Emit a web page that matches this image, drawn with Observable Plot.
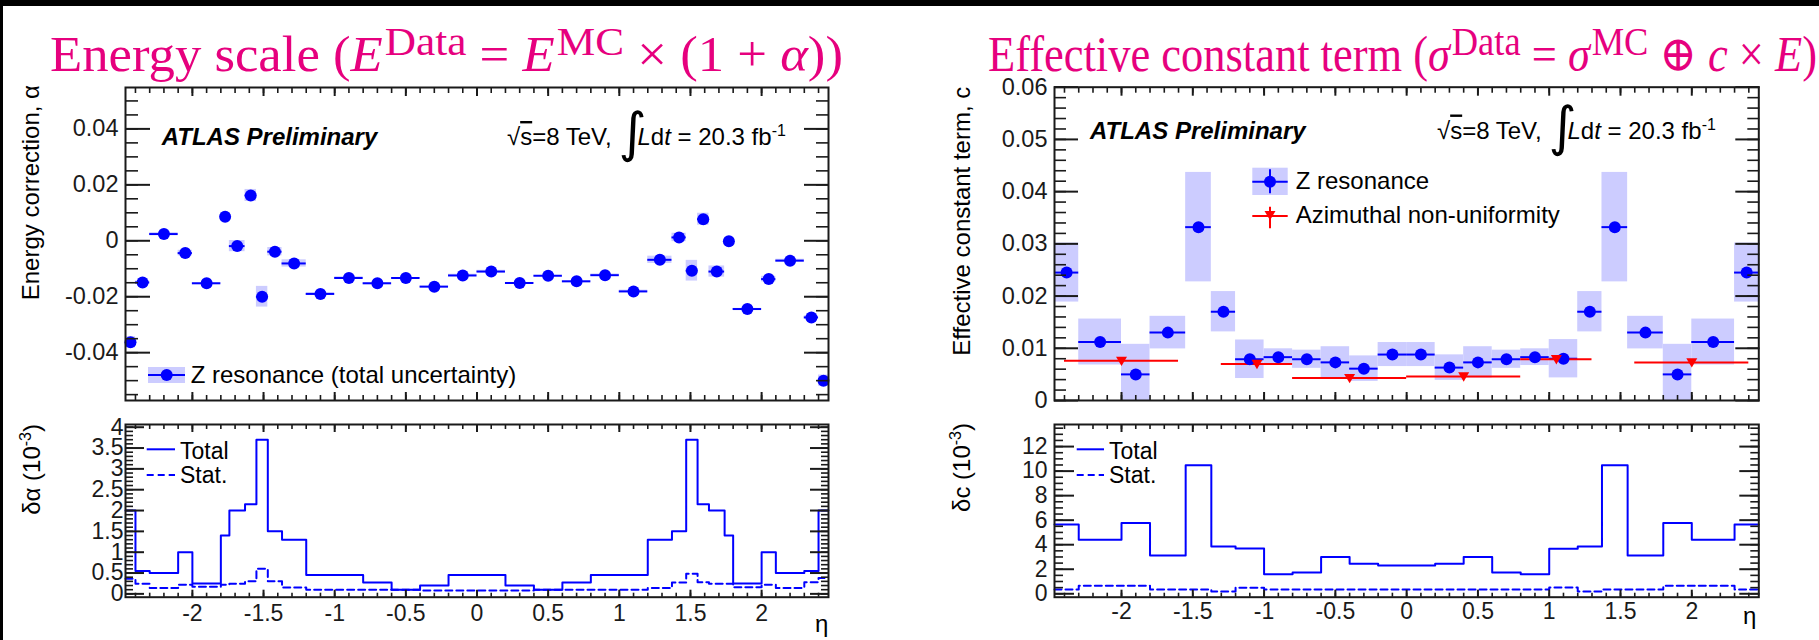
<!DOCTYPE html>
<html>
<head>
<meta charset="utf-8">
<script src="https://cdn.jsdelivr.net/npm/d3@7"></script>
<script src="https://cdn.jsdelivr.net/npm/@observablehq/plot@0.6"></script>
<style>
  html, body { margin: 0; padding: 0; background: #000; }
  #page { position: relative; width: 1819px; height: 640px; background: #000; overflow: hidden; }
  #paper { position: absolute; left: 3px; top: 6px; width: 1816px; height: 634px; background: #fff; }
  #overlay { position: absolute; left: 0; top: 0; pointer-events: none; }
  #overlay text { white-space: pre; }
</style>
</head>
<body>
<div id="page"><div id="paper"></div></div>
<script>
// ---------------- data ----------------
const etaMajor = [-2, -1.5, -1, -0.5, 0, 0.5, 1, 1.5, 2];
const etaLabels = ["-2", "-1.5", "-1", "-0.5", "0", "0.5", "1", "1.5", "2"];

// energy scale alpha, 34 eta bins
const alphaEdges = [-2.47, -2.4, -2.3, -2.1, -2.0, -1.8, -1.74, -1.63, -1.55, -1.47, -1.37, -1.2, -1.0, -0.8, -0.6, -0.4, -0.2, 0,
                    0.2, 0.4, 0.6, 0.8, 1.0, 1.2, 1.37, 1.47, 1.55, 1.63, 1.74, 1.8, 2.0, 2.1, 2.3, 2.4, 2.47];
const alphaValues = [-0.0363, -0.0149, 0.0024, -0.0044, -0.0152, 0.0086, -0.0019, 0.0162, -0.0200, -0.0039, -0.0081, -0.0190,
                     -0.0133, -0.0152, -0.0133, -0.0164, -0.0124, -0.0110, -0.0151, -0.0125, -0.0145, -0.0123, -0.0181,
                     -0.0068, 0.0012, -0.0107, 0.0077, -0.0110, -0.0002, -0.0244, -0.0137, -0.0071, -0.0274, -0.0500];
// uncertainties in units of 1e-3
const alphaTotal = [2.0, 0.55, 0.5, 1.0, 0.25, 1.4, 2.0, 2.15, 3.7, 1.5, 1.3, 0.45, 0.45, 0.27, 0.1, 0.2, 0.45,
                    0.45, 0.2, 0.1, 0.27, 0.45, 0.45, 1.3, 1.5, 3.7, 2.15, 2.0, 1.4, 0.25, 1.0, 0.5, 0.55, 2.0];
const alphaStat = [0.36, 0.24, 0.14, 0.22, 0.17, 0.22, 0.24, 0.3, 0.6, 0.3, 0.15, 0.1, 0.1, 0.1, 0.1, 0.08, 0.08,
                   0.08, 0.08, 0.1, 0.1, 0.1, 0.1, 0.14, 0.27, 0.48, 0.28, 0.24, 0.24, 0.16, 0.22, 0.14, 0.28, 0.38];

// effective constant term c, 24 eta bins
const cEdges = [-2.47, -2.3, -2.0, -1.8, -1.55, -1.37, -1.2, -1.0, -0.8, -0.6, -0.4, -0.2, 0,
                0.2, 0.4, 0.6, 0.8, 1.0, 1.2, 1.37, 1.55, 1.8, 2.0, 2.3, 2.47];
const cValues = [0.0245, 0.0112, 0.0050, 0.0130, 0.0332, 0.0170, 0.0079, 0.0083, 0.0079, 0.0073, 0.0061, 0.0088,
                 0.0088, 0.0063, 0.0073, 0.0079, 0.0083, 0.0080, 0.0170, 0.0332, 0.0130, 0.0050, 0.0112, 0.0245];
const cTotal = [5.65, 4.4, 5.76, 3.12, 10.48, 3.86, 3.69, 1.6, 1.74, 3.0, 2.44, 2.3,
                2.3, 2.44, 3.0, 1.74, 1.6, 3.67, 3.86, 10.48, 3.12, 5.76, 4.4, 5.65];
const cStat = [0.35, 0.65, 0.65, 0.35, 0.35, 0.19, 0.5, 0.35, 0.35, 0.35, 0.35, 0.35,
               0.35, 0.35, 0.35, 0.35, 0.35, 0.52, 0.19, 0.35, 0.35, 0.65, 0.65, 0.35];

// azimuthal non-uniformity
const azLo = [-2.4, -1.3, -0.8, 0, 0.8, 1.6];
const azHi = [-1.6, -0.8, 0, 0.8, 1.3, 2.4];
const azValues = [0.0076, 0.0070, 0.0043, 0.0046, 0.0079, 0.0073];

// axis ticks
const alphaTicks = [-0.04, -0.02, 0, 0.02, 0.04];
const cTicks = [0, 0.01, 0.02, 0.03, 0.04, 0.05, 0.06];
const dAlphaTicks = [0, 0.5, 1, 1.5, 2, 2.5, 3, 3.5, 4];
const dcTicks = [0, 2, 4, 6, 8, 10, 12];

// ---------------- helpers ----------------
const SANS = "'Liberation Sans', Arial, Helvetica, sans-serif";
const SERIF = "'Liberation Serif', 'DejaVu Serif', 'Times New Roman', serif";
const blue = "#0000ff", red = "#ff0000", band = "#ccccff", ink = "#1a1a1a";
const fmt = d => String(+(+d).toFixed(4));
const none = () => "";
const etaMinor = d3.range(-24, 25).map(i => i / 10);
const page = document.getElementById("page");

const bins = (edges, vals, tot, scale) => vals.map((v, i) => ({
  lo: edges[i], hi: edges[i + 1], mid: (edges[i] + edges[i + 1]) / 2, v, err: tot[i] * scale
}));
const steps = (edges, vals) => [...vals.map((v, i) => ({x: edges[i], y: v})), {x: edges[edges.length - 1], y: vals[vals.length - 1]}];

const triDown = {draw(ctx, size) {
  const r = Math.sqrt(size / Math.PI);
  ctx.moveTo(-r, -0.75 * r); ctx.lineTo(r, -0.75 * r); ctx.lineTo(0, 0.95 * r); ctx.closePath();
}};

function panel(o) {
  const [fl, ft, fr, fb] = o.frame;
  const svg = Plot.plot({
    width: o.width, height: o.height,
    marginLeft: fl - o.left, marginRight: o.left + o.width - fr,
    marginTop: ft - o.top, marginBottom: o.top + o.height - fb,
    x: {domain: [-2.47, 2.47]},
    y: {domain: o.ydomain},
    style: {background: "transparent", fontFamily: SANS, fontSize: o.fontSize + "px", color: ink, overflow: "visible"},
    marks: [
      ...o.marks,
      Plot.axisY(o.yMinor, {anchor: "left", tickSize: -o.yMinLen, tickFormat: none, strokeWidth: 1.6, label: null}),
      Plot.axisY(o.yMajor, {anchor: "left", tickSize: -o.yMajLen, tickPadding: o.yMajLen + o.yPad, tickFormat: fmt, strokeWidth: 2, label: null}),
      Plot.axisY(o.yMinor, {anchor: "right", tickSize: -o.yMinLen, tickFormat: none, strokeWidth: 1.6, label: null}),
      Plot.axisY(o.yMajor, {anchor: "right", tickSize: -o.yMajLen, tickFormat: none, strokeWidth: 2, label: null}),
      Plot.axisX(etaMinor, {anchor: "top", tickSize: -o.xMinLen, tickFormat: none, strokeWidth: 1.6, label: null}),
      Plot.axisX(etaMajor, {anchor: "top", tickSize: -o.xMajLen, tickFormat: none, strokeWidth: 2, label: null}),
      Plot.axisX(etaMinor, {anchor: "bottom", tickSize: -o.xMinLen, tickFormat: none, strokeWidth: 1.6, label: null}),
      Plot.axisX(etaMajor, {anchor: "bottom", tickSize: -o.xMajLen, tickPadding: o.xMajLen + (o.xPad || 0),
        tickFormat: o.xLabels ? (d => etaLabels[etaMajor.indexOf(d)]) : none, strokeWidth: 2, label: null}),
      Plot.frame({stroke: ink, strokeWidth: 2})
    ]
  });
  svg.style.position = "absolute";
  svg.style.left = o.left + "px";
  svg.style.top = o.top + "px";
  page.appendChild(svg);
}

// ---------------- panels ----------------
const aBins = bins(alphaEdges, alphaValues, alphaTotal, 1e-3);
panel({
  left: 0, top: 76, width: 870, height: 334, frame: [125, 87, 828, 400],
  ydomain: [-0.0571, 0.0548], yMajor: alphaTicks, yMinor: d3.range(-11, 11).map(i => i * 0.005),
  yMajLen: 25, yMinLen: 13, yPad: 7, xMajLen: 8, xMinLen: 5, xLabels: false, fontSize: 23.5,
  marks: [
    Plot.rect(aBins, {x1: "lo", x2: "hi", y1: d => d.v - d.err, y2: d => d.v + d.err, fill: band}),
    Plot.ruleY(aBins, {x1: "lo", x2: "hi", y: "v", stroke: blue, strokeWidth: 2}),
    Plot.dot(aBins, {x: "mid", y: "v", r: 6, fill: blue})
  ]
});

panel({
  left: 0, top: 410, width: 870, height: 230, frame: [125, 424, 828, 596.7],
  ydomain: [-0.08, 4.065], yMajor: dAlphaTicks, yMinor: d3.range(0, 41).map(i => i / 10),
  yMajLen: 19, yMinLen: 8, yPad: 2, xMajLen: 7, xMinLen: 4, xLabels: true, xPad: 7, fontSize: 23,
  marks: [
    Plot.line(steps(alphaEdges, alphaTotal), {x: "x", y: "y", curve: "step-after", stroke: blue, strokeWidth: 2}),
    Plot.line(steps(alphaEdges, alphaStat), {x: "x", y: "y", curve: "step-after", stroke: blue, strokeWidth: 2, strokeDasharray: "7,4"})
  ]
});

const cBins = bins(cEdges, cValues, cTotal, 1e-3);
const azBins = azValues.map((v, i) => ({lo: azLo[i], hi: azHi[i], mid: (azLo[i] + azHi[i]) / 2, v}));
panel({
  left: 900, top: 76, width: 919, height: 334, frame: [1054, 86.7, 1758.3, 400],
  ydomain: [0, 0.06], yMajor: cTicks, yMinor: d3.range(0, 31).map(i => i * 0.002),
  yMajLen: 24, yMinLen: 12, yPad: 7, xMajLen: 8, xMinLen: 5, xLabels: false, fontSize: 23.5,
  marks: [
    Plot.rect(cBins, {x1: "lo", x2: "hi", y1: d => d.v - d.err, y2: d => d.v + d.err, fill: band, clip: true}),
    Plot.ruleY(cBins, {x1: "lo", x2: "hi", y: "v", stroke: blue, strokeWidth: 2}),
    Plot.ruleY(azBins, {x1: "lo", x2: "hi", y: "v", stroke: red, strokeWidth: 2}),
    Plot.dot(cBins, {x: "mid", y: "v", r: 6, fill: blue}),
    Plot.dot(azBins, {x: "mid", y: "v", r: 5.5, symbol: triDown, fill: red})
  ]
});

panel({
  left: 900, top: 410, width: 919, height: 230, frame: [1054, 424, 1758.3, 596.7],
  ydomain: [-0.28, 13.8], yMajor: dcTicks, yMinor: d3.range(0, 28).map(i => i / 2),
  yMajLen: 20, yMinLen: 9, yPad: 7, xMajLen: 7, xMinLen: 4, xLabels: true, xPad: 5, fontSize: 23,
  marks: [
    Plot.line(steps(cEdges, cTotal), {x: "x", y: "y", curve: "step-after", stroke: blue, strokeWidth: 2}),
    Plot.line(steps(cEdges, cStat), {x: "x", y: "y", curve: "step-after", stroke: blue, strokeWidth: 2, strokeDasharray: "7,4"})
  ]
});

// ---------------- overlay: titles, labels, legends ----------------
const ov = d3.select("#page").append("svg").attr("id", "overlay").attr("width", 1819).attr("height", 640);

function addText(x, y, parts, opt = {}) {
  const {size = 24, family = SANS, fill = "#000", weight = null, fstyle = null, anchor = "start", rotate = 0, textLength = null} = opt;
  const t = ov.append("text")
    .attr("font-size", size).attr("font-family", family).attr("fill", fill).attr("text-anchor", anchor);
  if (rotate) t.attr("transform", `translate(${x},${y}) rotate(${rotate})`).attr("x", 0).attr("y", 0);
  else t.attr("x", x).attr("y", y);
  if (weight) t.attr("font-weight", weight);
  if (fstyle) t.attr("font-style", fstyle);
  let shift = 0;
  for (const p of parts) {
    const [s, o = {}] = typeof p === "string" ? [p] : p;
    const ts = t.append("tspan").text(s);
    const target = (o.sup ? -o.sup : 0) + (o.sub || 0);
    if (target !== shift) { ts.attr("dy", target - shift); shift = target; }
    if (o.x != null) ts.attr("x", o.x);
    if (o.dx) ts.attr("dx", o.dx);
    if (o.size) ts.attr("font-size", o.size);
    if (o.italic) ts.attr("font-style", "italic");
    if (o.family) ts.attr("font-family", o.family);
    if (o.overline) ts.style("text-decoration", "overline");
  }
  if (textLength) t.attr("textLength", textLength).attr("lengthAdjust", "spacingAndGlyphs");
  return t;
}

const pink = "#e6007e";
const SUP = {sup: 16, size: 41, dx: 2};
addText(50, 70.5, [
  "Energy scale (", ["E", {italic: 1}], ["Data", SUP], " = ", ["E", {italic: 1}], ["MC", SUP],
  " × (1 + ", ["α", {italic: 1}], "))"
], {size: 50, family: SERIF, fill: pink, textLength: 793});
addText(988, 70.5, [
  "Effective constant term (", ["σ", {italic: 1}], ["Data", SUP], " = ", ["σ", {italic: 1}], ["MC", SUP],
  " ⊕ ", ["c", {italic: 1}], " × ", ["E", {italic: 1}], ")"
], {size: 50, family: SERIF, fill: pink, textLength: 829});

// y-axis titles
addText(38.5, 85, ["Energy correction, α"], {rotate: -90, anchor: "end"});
addText(969.5, 86.7, ["Effective constant term, c"], {rotate: -90, anchor: "end"});
addText(40, 424, ["δα (10", ["-3", {sup: 9, size: 16}], ")"], {rotate: -90, anchor: "end"});
addText(970, 423, ["δc (10", ["-3", {sup: 9, size: 16}], ")"], {rotate: -90, anchor: "end"});

// x-axis titles
addText(815, 632, ["η"]);
addText(1743, 623.5, ["η"]);

// ATLAS labels
addText(161.7, 145, ["ATLAS Preliminary"], {weight: "bold", fstyle: "italic"});
addText(1090, 138.5, ["ATLAS Preliminary"], {weight: "bold", fstyle: "italic"});

// luminosity label, one text element with positioned pieces
function lumi(x, y, ix) {
  addText(x, y, [
    "√", ["s", {overline: 1}], "=8 TeV,",
    ["∫", {x: ix, sub: 6, size: 54, family: "'DejaVu Sans', sans-serif"}],
    ["L", {x: ix + 19, italic: 1}], "d", ["t", {italic: 1}], " = 20.3 fb", ["-1", {sup: 9, size: 16}]
  ]);
}
lumi(507, 145, 618.5);
lumi(1437, 138.5, 1548.5);

// legend: left top
ov.append("rect").attr("x", 148).attr("y", 367).attr("width", 37).attr("height", 16).attr("fill", band);
ov.append("line").attr("x1", 148).attr("x2", 185).attr("y1", 375).attr("y2", 375).attr("stroke", blue).attr("stroke-width", 2);
ov.append("circle").attr("cx", 166.7).attr("cy", 375).attr("r", 6).attr("fill", blue);
addText(190.7, 383, ["Z resonance (total uncertainty)"]);

// legend: right top
ov.append("rect").attr("x", 1252.3).attr("y", 167.7).attr("width", 35.4).attr("height", 27.3).attr("fill", band);
ov.append("line").attr("x1", 1252.3).attr("x2", 1287.7).attr("y1", 181.7).attr("y2", 181.7).attr("stroke", blue).attr("stroke-width", 2);
ov.append("line").attr("x1", 1270).attr("x2", 1270).attr("y1", 169.3).attr("y2", 193.3).attr("stroke", blue).attr("stroke-width", 2);
ov.append("circle").attr("cx", 1270).attr("cy", 181.7).attr("r", 6).attr("fill", blue);
addText(1295.7, 189.3, ["Z resonance"]);
ov.append("line").attr("x1", 1252.3).attr("x2", 1287.7).attr("y1", 216).attr("y2", 216).attr("stroke", red).attr("stroke-width", 2);
ov.append("line").attr("x1", 1270).attr("x2", 1270).attr("y1", 206.7).attr("y2", 228.3).attr("stroke", red).attr("stroke-width", 2);
ov.append("path").attr("d", d3.symbol(triDown, Math.PI * 5.5 * 5.5)()).attr("transform", "translate(1270,215)").attr("fill", red);
addText(1295.7, 223.3, ["Azimuthal non-uniformity"]);

// legends: bottom
function histLegend(x1, x2, tx) {
  ov.append("line").attr("x1", x1).attr("x2", x2).attr("y1", 449.3).attr("y2", 449.3).attr("stroke", blue).attr("stroke-width", 2);
  ov.append("line").attr("x1", x1).attr("x2", x2).attr("y1", 475).attr("y2", 475).attr("stroke", blue).attr("stroke-width", 2).attr("stroke-dasharray", "7,4");
  addText(tx, 459.3, ["Total"], {size: 23});
  addText(tx, 482.7, ["Stat."], {size: 23});
}
histLegend(146.7, 175, 180);
histLegend(1076.7, 1104, 1109);
</script>
</body>
</html>
